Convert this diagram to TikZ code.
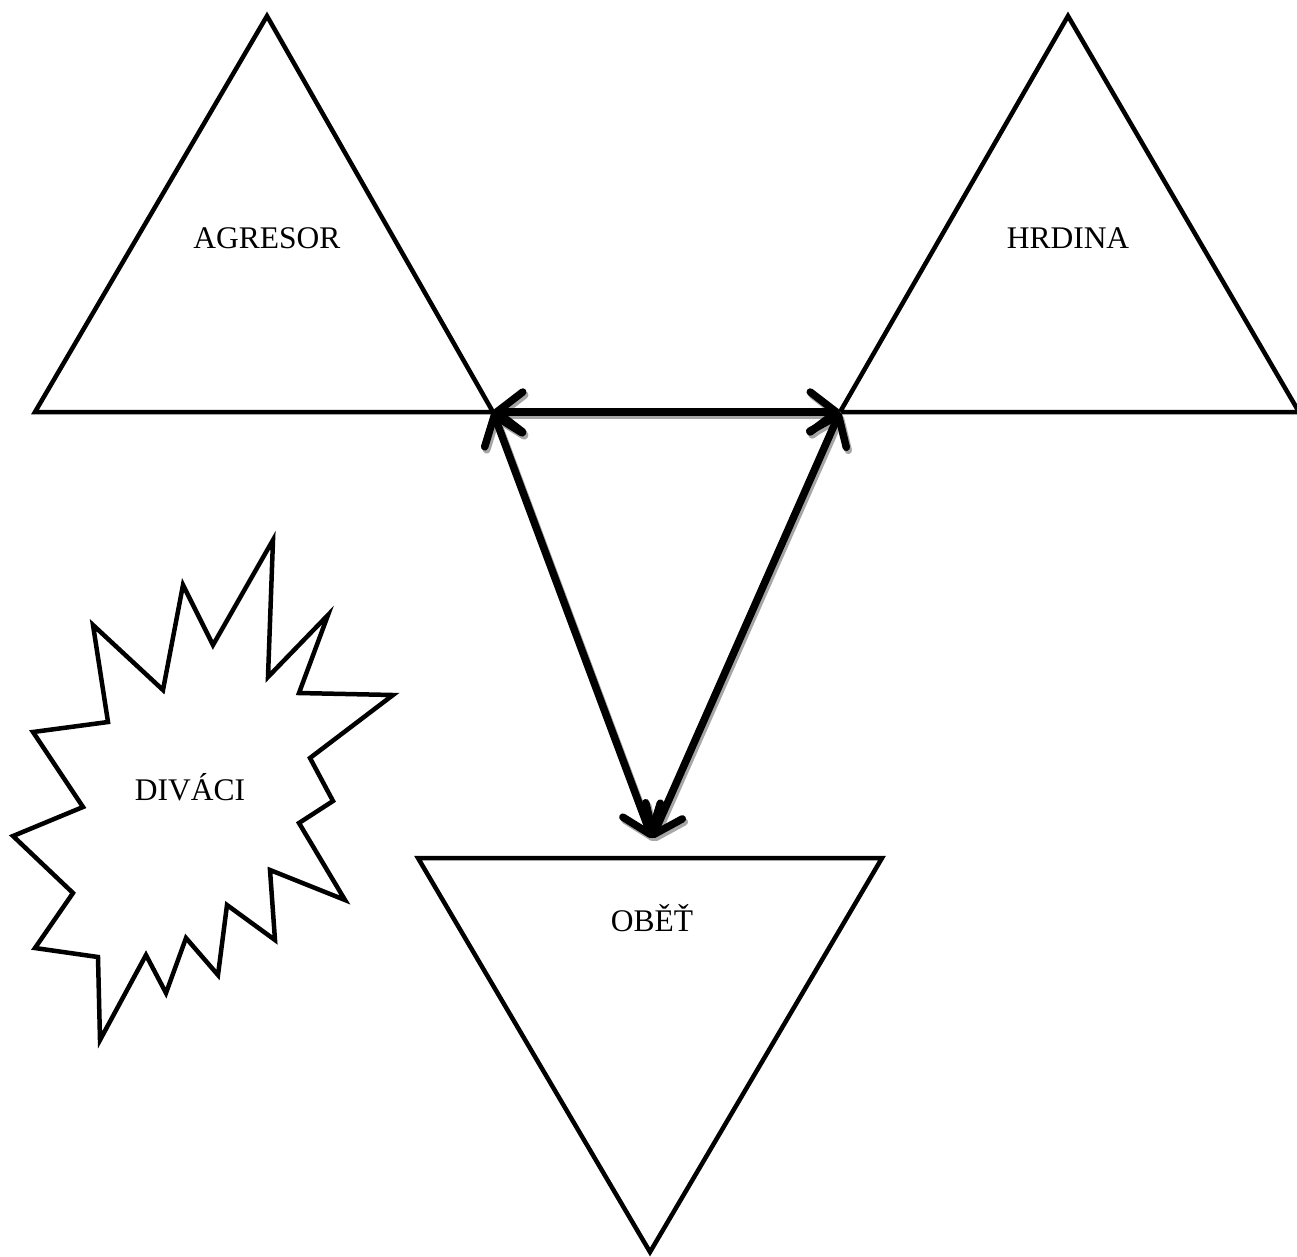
\documentclass[tikz,border=0pt]{standalone}
\usepackage{fontspec}
\setmainfont{Liberation Serif}
\usetikzlibrary{arrows.meta}
\begin{document}
\begin{tikzpicture}[x=1pt,y=-1pt,
  shapeline/.style={draw=black, line width=4.5pt, line join=miter},
  label/.style={font=\fontsize{31.5}{36}\selectfont, inner sep=0pt},
  dbl/.style={line width=7.5pt, line cap=round,
    {Straight Barb[length=26pt,width=40pt,round]}-{Straight Barb[length=26pt,width=40pt,round]}},
  shadowarrow/.style={dbl, draw=black!35}]
\useasboundingbox (0,0) rectangle (1297,1256);
% triangle corners
\coordinate (aT) at (267,16);
\coordinate (aL) at (35,412);
\coordinate (aR) at (493,412);
\coordinate (hT) at (1068,16);
\coordinate (hL) at (840,412);
\coordinate (hR) at (1299,412);
\coordinate (oL) at (418,858);
\coordinate (oR) at (882,858);
\coordinate (oB) at (650,1252);
\coordinate (oTop) at (652,838);
% shapes
\draw[shapeline] (aT) -- (aL) -- (aR) -- cycle;
\draw[shapeline] (hT) -- (hL) -- (hR) -- cycle;
\draw[shapeline] (oL) -- (oR) -- (oB) -- cycle;
\draw[shapeline, fill=white] (273,540) -- (268,677) -- (328,615) -- (299,693) -- (393,695)
  -- (310,758) -- (333,801) -- (299,823) -- (345,900) -- (270,870) -- (275,940)
  -- (227,905) -- (218,975) -- (186,938) -- (166,993) -- (146,955) -- (100,1040)
  -- (98,957) -- (35,948) -- (73,893) -- (13,836) -- (83,807) -- (33,732)
  -- (108,722) -- (93,625) -- (163,690) -- (183,585) -- (213,645) -- cycle;
% labels
\node[label] (agresor) at (267,238) {AGRESOR};
\node[label] (hrdina) at (1068,238) {HRDINA};
\node[label] (divaci) at (190,787) {DIVÁCI};
\node[label] (obet) at (652,918) {OBĚŤ};
% shadows
\begin{scope}[transform canvas={shift={(2pt,-3pt)}}]
\draw[shadowarrow] (aR) -- (hL);
\draw[shadowarrow] (aR) -- (oTop);
\draw[shadowarrow] (hL) -- (oTop);
\end{scope}
% arrows
\draw[dbl] (aR) -- (hL);
\draw[dbl] (aR) -- (oTop);
\draw[dbl] (hL) -- (oTop);
\end{tikzpicture}
\end{document}
